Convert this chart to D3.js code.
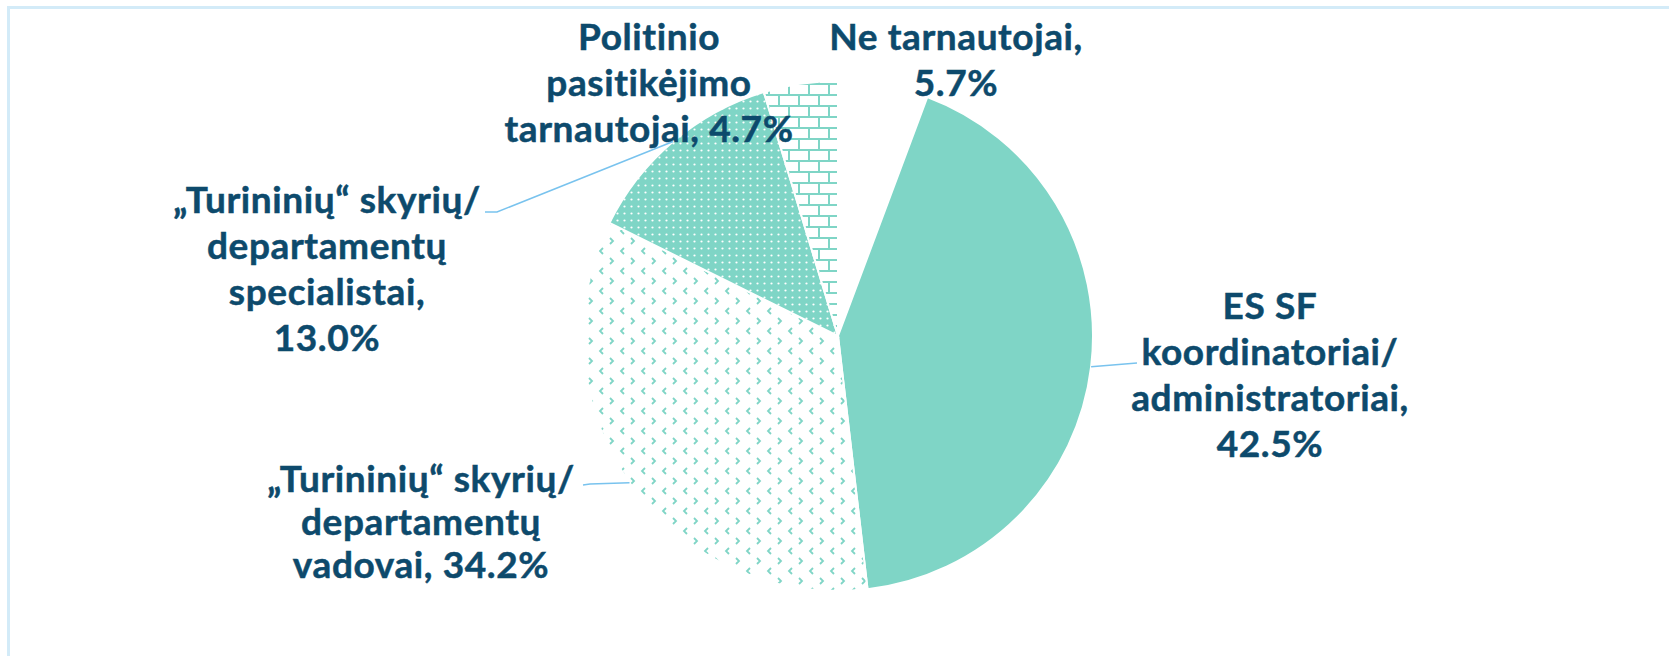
<!DOCTYPE html>
<html>
<head>
<meta charset="utf-8">
<script src="https://cdn.jsdelivr.net/npm/d3@7"></script>
<style>
  body { margin: 0; background: #fff; }
  svg { display: block; }
</style>
</head>
<body>
<div id="chart"></div>
<script>
// data, clockwise from 12 o'clock
var categories = ["Ne tarnautojai", "ES SF koordinatoriai/administratoriai",
    "„Turininių“ skyrių/departamentų vadovai", "„Turininių“ skyrių/departamentų specialistai",
    "Politinio pasitikėjimo tarnautojai"];
var values = [5.7, 42.5, 34.2, 13.0, 4.7];
var nameLines = [
    ["Ne tarnautojai,"],
    ["ES SF", "koordinatoriai/", "administratoriai,"],
    ["„Turininių“ skyrių/", "departamentų", "vadovai,"],
    ["„Turininių“ skyrių/", "departamentų", "specialistai,"],
    ["Politinio", "pasitikėjimo", "tarnautojai,"]
];
var valueOnNewLine = [true, true, false, true, false];

function init() {
    var w = 1669, h = 656;
    var cx = 838, cy = 336, radius = 255;
    var textColor = "#0d4a6c", teal = "#7fd5c6", leader = "#79c3ee";

    // label anchors: centre x, first baseline y, line step; leader: end point(s) near the label
    var labelPos = [[956, 50, 46], [1270, 319, 46], [421, 492, 43], [327, 213, 46], [649, 50, 46]];
    var leaders = [null, [[1137, 363]], [[590, 484], [583, 485]], [[497, 212], [485, 212]], null];

    var svg = d3.select("#chart").append("svg")
        .attr("width", w)
        .attr("height", h);

    var defs = svg.append("defs");

    // white bg, teal bricks
    var brick = defs.append("pattern").attr("id", "pBrick")
        .attr("patternUnits", "userSpaceOnUse").attr("width", 20).attr("height", 22);
    brick.append("rect").attr("width", 20).attr("height", 22).attr("fill", "#fff");
    brick.append("path")
        .attr("d", "M0,1H20M0,12H20M1,1V12M11,12V23")
        .attr("stroke", teal).attr("stroke-width", 2).attr("fill", "none");

    // teal bg, white dots
    var dots = defs.append("pattern").attr("id", "pDots")
        .attr("patternUnits", "userSpaceOnUse").attr("width", 7).attr("height", 7);
    dots.append("rect").attr("width", 7).attr("height", 7).attr("fill", teal);
    dots.append("circle").attr("cx", 3.5).attr("cy", 3.5).attr("r", 1.1).attr("fill", "#fff");

    // white bg, teal chevrons
    var chev = defs.append("pattern").attr("id", "pChev")
        .attr("patternUnits", "userSpaceOnUse").attr("width", 21).attr("height", 20);
    chev.append("rect").attr("width", 21).attr("height", 20).attr("fill", "#fff");
    chev.append("path")
        .attr("d", "M3,2L6,5L3,8M17,12L14,15L17,18")
        .attr("stroke", teal).attr("stroke-width", 1.8).attr("fill", "none");

    var fills = ["#fff", teal, "url(#pChev)", "url(#pDots)", "url(#pBrick)"];

    // frame
    svg.append("rect")
        .attr("x", 8.5).attr("y", 7.5)
        .attr("width", w + 20).attr("height", h + 20)
        .attr("fill", "none")
        .attr("stroke", "#d3ebf8")
        .attr("stroke-width", 3);

    var pie = d3.pie().sort(null).value(function(d) { return d; });
    var arc = d3.arc().innerRadius(0).outerRadius(radius);
    var arcs = pie(values);

    var g = svg.append("g").attr("transform", "translate(" + cx + "," + cy + ")");

    g.selectAll("path.slice")
        .data(arcs)
        .enter()
        .append("path")
        .attr("class", "slice")
        .attr("d", arc)
        .attr("fill", function(d, i) { return fills[i]; })
        .attr("stroke", "#fff")
        .attr("stroke-width", 2);

    // leader lines from the slice edge at mid angle
    arcs.forEach(function(d, i) {
        if (!leaders[i]) return;
        var a = (d.startAngle + d.endAngle) / 2;
        var pts = [[cx + Math.sin(a) * radius, cy - Math.cos(a) * radius]].concat(leaders[i]);
        svg.append("path")
            .attr("d", d3.line()(pts))
            .attr("fill", "none")
            .attr("stroke", leader)
            .attr("stroke-width", 1.5);
    });

    var fmt = d3.format(".1f");
    arcs.forEach(function(d, i) {
        var lines = nameLines[i].slice();
        var pct = fmt(values[i]) + "%";
        if (valueOnNewLine[i]) lines.push(pct);
        else lines[lines.length - 1] += " " + pct;
        var t = svg.append("text")
            .attr("x", labelPos[i][0])
            .attr("y", labelPos[i][1])
            .attr("text-anchor", "middle")
            .attr("font-family", "Lato, 'Open Sans', sans-serif")
            .attr("font-weight", "bold")
            .attr("font-size", 37)
            .attr("letter-spacing", 0.6)
            .attr("fill", textColor)
            .attr("stroke", textColor)
            .attr("stroke-width", 0.5);
        lines.forEach(function(s, j) {
            t.append("tspan")
                .attr("x", labelPos[i][0])
                .attr("dy", j === 0 ? 0 : labelPos[i][2])
                .text(s);
        });
    });
}

window.onload = init;
</script>
</body>
</html>
